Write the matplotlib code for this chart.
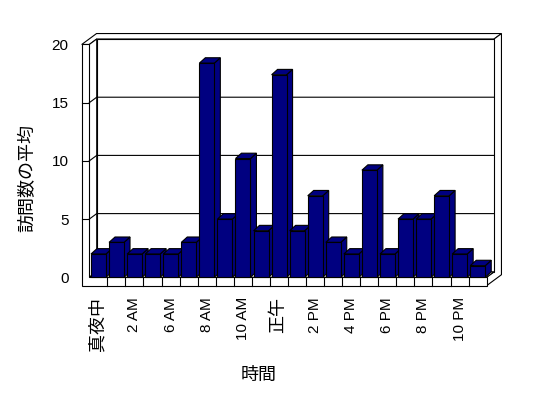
import matplotlib
matplotlib.use("Agg")
import matplotlib.pyplot as plt
from matplotlib.patches import Polygon

plt.rcParams['font.family'] = ['Liberation Sans', 'Noto Sans CJK JP']

# Data (22 hour slots, labels shown every other slot)
hours = ["真夜中", "1 AM", "2 AM", "5 AM", "6 AM", "7 AM", "8 AM", "9 AM",
         "10 AM", "11 AM", "正午", "1 PM", "2 PM", "3 PM", "4 PM", "5 PM",
         "6 PM", "7 PM", "8 PM", "9 PM", "10 PM", "11 PM"]
visits = [2, 3, 2, 2, 2, 3, 18.4, 5, 10.2, 4, 17.4, 4, 7, 3, 2, 9.2,
          2, 5, 5, 7, 2, 1]
yticks = [0, 5, 10, 15, 20]

navy = "#000080"
lw = 0.8
n = len(visits)
ymax = yticks[-1]

# pseudo-3D geometry (data units)
t = 0.42      # left wall thickness
fb = 0.72     # floor thickness
dx, dy = 0.41, 0.47   # wall depth
bdx, bdy = 0.33, 0.46  # bar depth
b0, bw = 0.094, 0.83   # bar offset / width inside slot

fig = plt.figure(figsize=(5.48, 3.98), dpi=100)
ax = fig.add_axes([0.1465, 0.2741, 0.7745, 0.658])
ax.set_xlim(-0.5, 23.0)
ax.set_ylim(-1.0, 21.5)
for s in ax.spines.values():
    s.set_visible(False)

def face(pts, fc="white", z=1):
    ax.add_patch(Polygon(pts, closed=True, facecolor=fc, edgecolor="black",
                         linewidth=lw, zorder=z, clip_on=False))

xr = n
# walls
face([(-t, ymax), (0, ymax), (dx, ymax + dy), (xr + dx, ymax + dy),
      (xr + 2 * dx, ymax + 2 * dy), (-t + 2 * dx, ymax + 2 * dy)])
face([(xr + dx, ymax + dy), (xr + 2 * dx, ymax + 2 * dy),
      (xr + 2 * dx, -fb + 2 * dy), (xr, -fb), (xr, 0), (xr + dx, dy)])
face([(dx, dy), (xr + dx, dy), (xr + dx, ymax + dy), (dx, ymax + dy)])
face([(0, 0), (0, ymax), (dx, ymax + dy), (dx, dy)])
face([(0, 0), (xr, 0), (xr + dx, dy), (dx, dy)])
face([(-t, -fb), (xr, -fb), (xr, 0), (0, 0), (0, ymax), (-t, ymax)])

# gridlines on back wall and ticks on the left wall face
for v in yticks[1:-1]:
    ax.plot([0, dx, xr + dx], [v, v + dy, v + dy], color="black", lw=lw,
            zorder=2, clip_on=False)
    ax.plot([-t, 0], [v, v], color="black", lw=lw, zorder=2, clip_on=False)
# category dividers on floor front
for i in range(1, n):
    ax.plot([i, i], [-fb, 0], color="black", lw=lw, zorder=2, clip_on=False)

# bars
for i, v in enumerate(visits):
    x0 = i + b0
    x1 = x0 + bw
    z = 3 + i
    face([(x1, 0), (x1 + bdx, bdy), (x1 + bdx, v + bdy), (x1, v)], navy, z)
    face([(x0, v), (x0 + bdx, v + bdy), (x1 + bdx, v + bdy), (x1, v)], navy, z)
    ax.bar(x0, v, width=bw, align="edge", color=navy, edgecolor="black",
           linewidth=lw, zorder=z, clip_on=False)

ax.set_yticks(yticks)
ax.set_yticklabels([str(v) for v in yticks], fontsize=11)
ax.set_xticks([i + 0.5 for i in range(0, n, 2)])
ax.set_xticklabels(hours[::2], rotation=90, fontsize=11, va="top", ha="center")
for lab in ax.get_xticklabels():
    if not lab.get_text()[0].isdigit():
        lab.set_fontsize(13)
ax.tick_params(axis="x", length=0, pad=5.8)
ax.tick_params(axis="y", length=0, pad=8.5)

ax.set_ylabel("訪問数の平均", fontsize=13, va="center")
ax.yaxis.set_label_coords(-0.1225, 0.4235)
ax.set_xlabel("時間", fontsize=13, va="center")
ax.xaxis.set_label_coords(0.421, -0.329)

fig.savefig("out.png", dpi=100, facecolor="white")
